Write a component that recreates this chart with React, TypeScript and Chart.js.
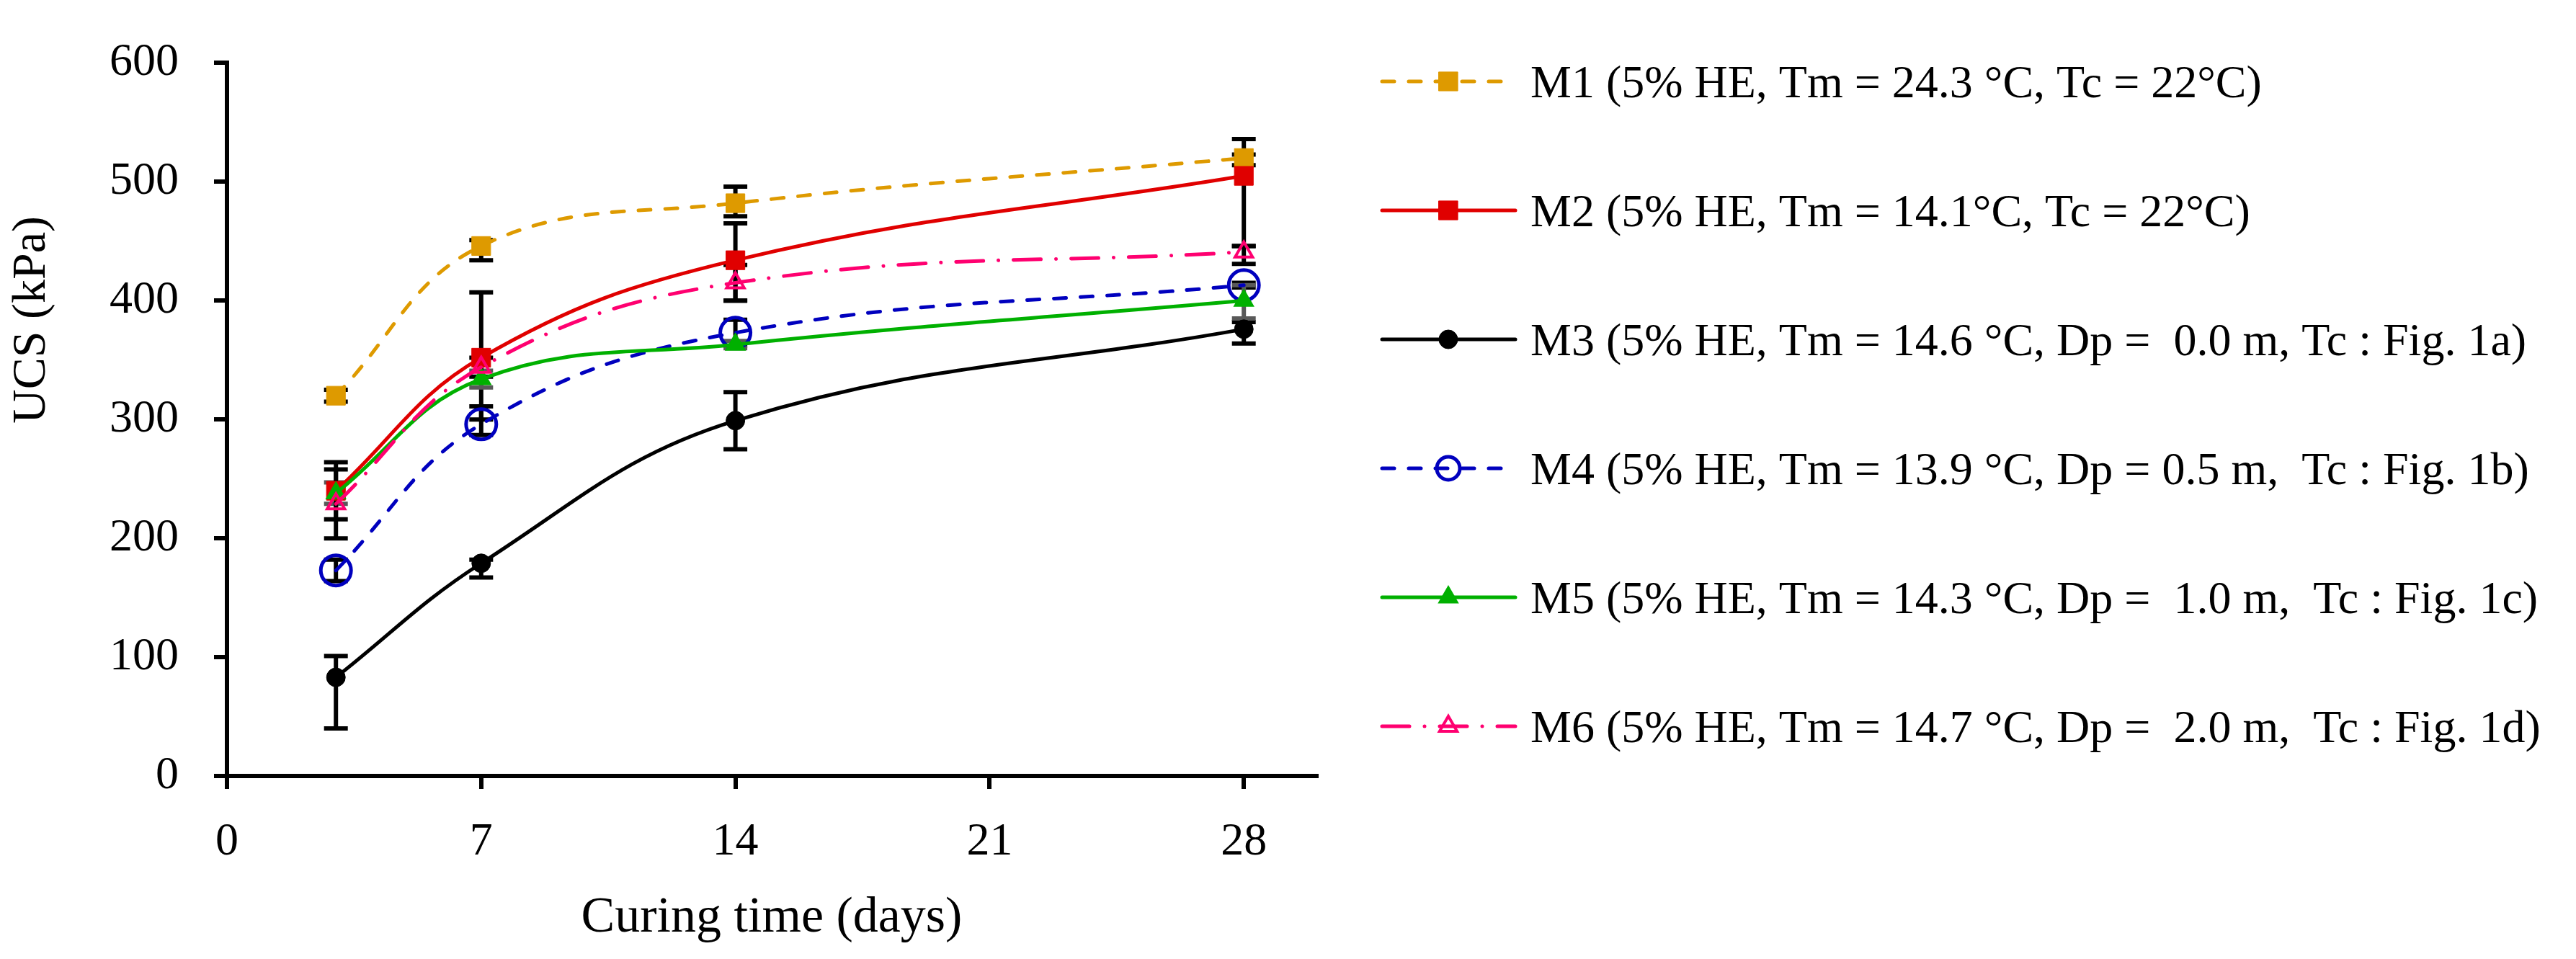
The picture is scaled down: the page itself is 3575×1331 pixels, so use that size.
import { useEffect, useRef } from "react";
import { Chart, registerables, type ChartConfiguration, type Plugin } from "chart.js";
import { drawPoint } from "chart.js/helpers";

Chart.register(...registerables);

const FONT = '"Liberation Serif", "Times New Roman", serif';

// curing time (days) and tick values
const days = [3, 7, 14, 28];
const xTickValues = [0, 7, 14, 21, 28];
const yTickValues = [0, 100, 200, 300, 400, 500, 600];

const labels = [
  "M1 (5% HE, Tm = 24.3 °C, Tc = 22°C)",
  "M2 (5% HE, Tm = 14.1°C, Tc = 22°C)",
  "M3 (5% HE, Tm = 14.6 °C, Dp =  0.0 m, Tc : Fig. 1a)",
  "M4 (5% HE, Tm = 13.9 °C, Dp = 0.5 m,  Tc : Fig. 1b)",
  "M5 (5% HE, Tm = 14.3 °C, Dp =  1.0 m,  Tc : Fig. 1c)",
  "M6 (5% HE, Tm = 14.7 °C, Dp =  2.0 m,  Tc : Fig. 1d)",
];

// UCS (kPa)
const m1 = [320, 446, 482, 520];
const m2 = [240, 352, 434, 505];
const m3 = [83, 179, 299, 376];
const m4 = [173, 296, 373, 413];
const m5 = [238, 334, 363, 400];
const m6 = [229, 344, 415, 441];

// error bars (plus / minus)
const m1Up = [5, 5, 14, 16];
const m1Down = [5, 12, 11, 6];
const m2Up = [24, 55, 31, 18];
const m2Down = [24, 52, 34, 59];
const m3Up = [18, 3, 24, 6];
const m3Down = [43, 12, 24, 12];
const m4Up = [9, 15, 11, 2];
const m4Down = [9, 9, 11, 2];
const m5Up = [9, 7, 3, 13];
const m5Down = [9, 7, 3, 15];
const m6Up = [29, 8, 15, 5];
const m6Down = [29, 8, 15, 10];

const values = [m1, m2, m3, m4, m5, m6];
const errUp = [m1Up, m2Up, m3Up, m4Up, m5Up, m6Up];
const errDown = [m1Down, m2Down, m3Down, m4Down, m5Down, m6Down];

// styles
const colors = ["#DE9A00", "#E00000", "#000000", "#0000BE", "#00B000", "#FF0070"];
const fills = ["#DE9A00", "#E00000", "#000000", "rgba(0,0,0,0)", "#00B000", "rgba(0,0,0,0)"];
const dashes = [[17, 20], [], [], [17, 20], [], [38, 21, 0.01, 21]];
const markers = ["rect", "rect", "circle", "circle", "triangle", "triangle"] as const;
const radii = [18.5, 18.5, 13, 21, 14, 14];
const legendRadii = [18.5, 18.5, 13, 16, 14, 14];
const markerBorders = [1, 1, 1, 5, 3, 4];
const errColors = ["#000", "#000", "#000", "#000", "#595959", "#000"];

const errorBars: Plugin<"line"> = {
  id: "errorBars",
  beforeDatasetsDraw(chart) {
    const { ctx } = chart;
    const x = chart.scales.x;
    const y = chart.scales.y;
    ctx.save();
    ctx.lineWidth = 6;
    ctx.setLineDash([]);
    values.forEach((vals, s) => {
      ctx.strokeStyle = errColors[s];
      vals.forEach((v, i) => {
        const px = x.getPixelForValue(days[i]);
        const top = y.getPixelForValue(v + errUp[s][i]);
        const bot = y.getPixelForValue(v - errDown[s][i]);
        ctx.beginPath();
        ctx.moveTo(px, top);
        ctx.lineTo(px, bot);
        ctx.moveTo(px - 16.5, top);
        ctx.lineTo(px + 16.5, top);
        ctx.moveTo(px - 16.5, bot);
        ctx.lineTo(px + 16.5, bot);
        ctx.stroke();
      });
    });
    ctx.restore();
  },
};

const decorations: Plugin<"line"> = {
  id: "decorations",
  afterDraw(chart) {
    const { ctx } = chart;
    ctx.save();
    ctx.fillStyle = "#000";

    // y axis title, sits above the axis middle like the original
    ctx.save();
    ctx.font = `66px ${FONT}`;
    ctx.translate(45, 444);
    ctx.rotate(-Math.PI / 2);
    ctx.textAlign = "center";
    ctx.textBaseline = "middle";
    ctx.fillText("UCS (kPa)", 0, 0);
    ctx.restore();

    // legend
    ctx.font = `64px ${FONT}`;
    labels.forEach((label, i) => {
      const cy = 113 + i * 179;
      ctx.save();
      ctx.strokeStyle = colors[i];
      ctx.lineWidth = 5;
      ctx.lineCap = "round";
      ctx.setLineDash(dashes[i]);
      ctx.beginPath();
      ctx.moveTo(1918, cy);
      ctx.lineTo(2103, cy);
      ctx.stroke();
      ctx.setLineDash([]);
      ctx.fillStyle = fills[i];
      ctx.strokeStyle = colors[i];
      ctx.lineWidth = markerBorders[i];
      drawPoint(ctx, { pointStyle: markers[i], radius: legendRadii[i], rotation: 0, borderWidth: markerBorders[i] }, 2010, cy);
      ctx.restore();
      ctx.textAlign = "left";
      ctx.textBaseline = "alphabetic";
      ctx.fillText(label, 2124, cy + 22);
    });
    ctx.restore();
  },
};

export default function App() {
  const ref = useRef<HTMLCanvasElement | null>(null);
  const chartRef = useRef<Chart<"line"> | null>(null);

  useEffect(() => {
    const el = ref.current;
    if (!el) return;
    chartRef.current?.destroy();

    const axisGrid = {
      display: true,
      drawOnChartArea: false,
      drawTicks: true,
      tickLength: 18,
      tickWidth: 6,
      lineWidth: 6,
      color: "#000",
      tickColor: "#000",
    };

    const cfg: ChartConfiguration<"line"> = {
      type: "line",
      data: {
        datasets: labels.map((label, s) => ({
          label,
          data: days.map((d, i) => ({ x: d, y: values[s][i] })),
          borderColor: colors[s],
          backgroundColor: fills[s],
          borderWidth: 5,
          borderDash: dashes[s],
          borderCapStyle: "round",
          tension: 0.4,
          pointStyle: markers[s],
          pointRadius: radii[s],
          pointBorderWidth: markerBorders[s],
          pointBackgroundColor: fills[s],
          pointBorderColor: colors[s],
          order: labels.length - s,
        })),
      },
      options: {
        animation: false,
        responsive: true,
        maintainAspectRatio: false,
        devicePixelRatio: 1,
        layout: { padding: { left: 0, top: 45, right: 1748, bottom: 0 } },
        plugins: {
          legend: { display: false },
          tooltip: { enabled: false },
        },
        scales: {
          x: {
            type: "linear",
            min: 0,
            max: 30,
            afterBuildTicks: (s) => {
              s.ticks = xTickValues.map((value) => ({ value }));
            },
            afterFit: (s) => {
              s.height = 254;
            },
            ticks: { font: { family: FONT, size: 64 }, color: "#000", padding: 36, maxRotation: 0 },
            grid: axisGrid,
            border: { display: true, color: "#000", width: 6 },
            title: {
              display: true,
              text: "Curing time (days)",
              color: "#000",
              font: { family: FONT, size: 70 },
              padding: { top: 0, bottom: 14 },
            },
          },
          y: {
            type: "linear",
            min: 0,
            max: 600,
            afterBuildTicks: (s) => {
              s.ticks = yTickValues.map((value) => ({ value }));
            },
            afterFit: (s) => {
              s.width = 315;
            },
            ticks: { font: { family: FONT, size: 64 }, color: "#000", padding: 49 },
            grid: axisGrid,
            border: { display: true, color: "#000", width: 6 },
          },
        },
      },
      plugins: [errorBars, decorations],
    };

    chartRef.current = new Chart(el, cfg);
    return () => {
      chartRef.current?.destroy();
      chartRef.current = null;
    };
  }, []);

  return (
    <div style={{ position: "fixed", left: 0, top: 0, width: 3575, height: 1331, background: "#fff" }}>
      <canvas ref={ref} />
    </div>
  );
}
